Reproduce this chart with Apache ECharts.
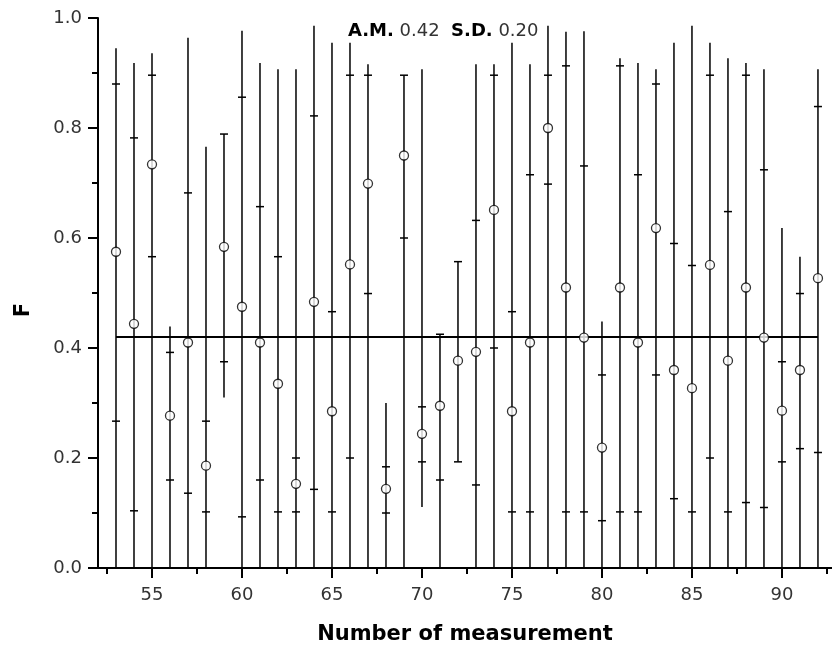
<!DOCTYPE html>
<html>
<head>
<meta charset="utf-8">
<title>F per measurement</title>
<script src="https://cdn.jsdelivr.net/npm/echarts@6/dist/echarts.min.js"></script>
<style>
  html, body { margin: 0; padding: 0; background: #fff; }
  #chart { width: 832px; height: 647px; }
</style>
</head>
<body>
<div id="chart"></div>
<script>
// values
const measurement = [53, 54, 55, 56, 57, 58, 59, 60, 61, 62, 63, 64, 65, 66, 67, 68, 69, 70, 71, 72,
  73, 74, 75, 76, 77, 78, 79, 80, 81, 82, 83, 84, 85, 86, 87, 88, 89, 90, 91, 92]
const meanF = [0.575, 0.444, 0.734, 0.277, 0.41, 0.186, 0.584, 0.475, 0.41, 0.335,
  0.153, 0.484, 0.285, 0.552, 0.699, 0.144, 0.75, 0.244, 0.295, 0.377,
  0.393, 0.651, 0.285, 0.41, 0.8, 0.51, 0.419, 0.219, 0.51, 0.41,
  0.618, 0.36, 0.327, 0.551, 0.377, 0.51, 0.419, 0.286, 0.36, 0.527]
const minF = [0, 0, 0, 0, 0, 0, 0.31, 0, 0, 0,
  0, 0, 0, 0, 0, 0, 0, 0.111, 0, 0.193,
  0, 0, 0, 0, 0, 0, 0, 0, 0, 0,
  0, 0, 0, 0, 0, 0, 0, 0, 0, 0]
const maxF = [0.945, 0.918, 0.936, 0.439, 0.964, 0.766, 0.789, 0.977, 0.918, 0.907,
  0.907, 0.986, 0.955, 0.955, 0.916, 0.30, 0.896, 0.907, 0.425, 0.557,
  0.916, 0.916, 0.955, 0.916, 0.986, 0.975, 0.976, 0.448, 0.927, 0.918,
  0.907, 0.955, 0.986, 0.955, 0.927, 0.918, 0.907, 0.618, 0.566, 0.907]
const sdUpper = [0.88, 0.782, 0.896, 0.392, 0.682, 0.267, 0.789, 0.856, 0.657, 0.566,
  0.2, 0.822, 0.466, 0.896, 0.896, 0.184, 0.896, 0.293, 0.425, 0.557,
  0.632, 0.896, 0.466, 0.715, 0.896, 0.913, 0.731, 0.351, 0.913, 0.715,
  0.88, 0.59, 0.55, 0.896, 0.648, 0.896, 0.724, 0.375, 0.499, 0.839]
const sdLower = [0.267, 0.104, 0.566, 0.16, 0.136, 0.102, 0.375, 0.093, 0.16, 0.102,
  0.102, 0.143, 0.102, 0.2, 0.499, 0.10, 0.6, 0.193, 0.16, 0.193,
  0.151, 0.4, 0.102, 0.102, 0.698, 0.102, 0.102, 0.086, 0.102, 0.102,
  0.351, 0.126, 0.102, 0.2, 0.102, 0.119, 0.11, 0.193, 0.217, 0.21]
const meanValue = 0.42
const sdValue = 0.20
const xLabels = [55, 60, 65, 70, 75, 80, 85, 90]
const xMinorTicks = [52.5, 57.5, 62.5, 67.5, 72.5, 77.5, 82.5, 87.5, 92.5]

const barData = measurement.map((n, i) => [n, minF[i], maxF[i], sdUpper[i], sdLower[i]])
const pointData = measurement.map((n, i) => [n, meanF[i]])
const meanLine = [[measurement[0], meanValue], [measurement[measurement.length - 1], meanValue]]

const chart = echarts.init(document.getElementById('chart'))

const labelFont = { fontFamily: 'DejaVu Sans', fontSize: 18, color: '#333' }
const nameFont = { fontFamily: 'DejaVu Sans', fontSize: 21, fontWeight: 'bold', color: '#000' }

function renderBar(params, api) {
  const x = api.value(0)
  const lo = api.coord([x, api.value(1)])
  const hi = api.coord([x, api.value(2)])
  const t1 = api.coord([x, api.value(3)])
  const t2 = api.coord([x, api.value(4)])
  const style = { stroke: '#000', lineWidth: 1.5 }
  const half = 4
  return {
    type: 'group',
    children: [
      { type: 'line', shape: { x1: lo[0], y1: lo[1], x2: hi[0], y2: hi[1] }, style },
      { type: 'line', shape: { x1: t1[0] - half, y1: t1[1], x2: t1[0] + half, y2: t1[1] }, style },
      { type: 'line', shape: { x1: t2[0] - half, y1: t2[1], x2: t2[0] + half, y2: t2[1] }, style }
    ]
  }
}

const option = {
  animation: false,
  backgroundColor: '#fff',
  title: {
    text: '{b|A.M.} ' + meanValue.toFixed(2) + '  {b|S.D.} ' + sdValue.toFixed(2),
    left: 343,
    top: 17,
    textStyle: {
      fontFamily: 'DejaVu Sans',
      fontSize: 18,
      fontWeight: 'normal',
      color: '#333',
      rich: {
        b: { fontFamily: 'DejaVu Sans', fontSize: 18, fontWeight: 'bold', color: '#000' }
      }
    }
  },
  grid: {
    left: 98,
    right: 0,
    top: 18,
    bottom: 79,
    containLabel: false,
    outerBoundsMode: 'none'
  },
  xAxis: [
    {
      type: 'value',
      min: 52,
      max: 92.78,
      name: 'Number of measurement',
      nameLocation: 'middle',
      nameGap: 56,
      nameTextStyle: nameFont,
      axisLine: { show: true, lineStyle: { color: '#000', width: 2 } },
      axisTick: { show: true, inside: false, length: 10, customValues: xLabels, lineStyle: { color: '#000', width: 2 } },
      axisLabel: { show: true, margin: 18, customValues: xLabels, ...labelFont },
      splitLine: { show: false }
    },
    {
      type: 'value',
      min: 52,
      max: 92.78,
      position: 'bottom',
      axisLine: { show: false },
      axisTick: { show: true, length: 6, customValues: xMinorTicks, lineStyle: { color: '#000', width: 2 } },
      axisLabel: { show: false },
      splitLine: { show: false }
    }
  ],
  yAxis: {
    type: 'value',
    min: 0,
    max: 1,
    interval: 0.2,
    name: 'F',
    nameLocation: 'middle',
    nameGap: 64,
    nameTextStyle: { ...nameFont, padding: [0, 34, 0, 0] },
    axisLine: { show: true, lineStyle: { color: '#000', width: 2 } },
    axisTick: { show: true, length: 10, lineStyle: { color: '#000', width: 2 } },
    minorTick: { show: true, splitNumber: 2, length: 6, lineStyle: { color: '#000', width: 2 } },
    axisLabel: { margin: 16, formatter: v => v.toFixed(1), ...labelFont },
    splitLine: { show: false },
    minorSplitLine: { show: false }
  },
  series: [
    {
      name: 'range',
      type: 'custom',
      xAxisIndex: 0,
      renderItem: renderBar,
      encode: { x: 0, y: [1, 2, 3, 4] },
      data: barData,
      z: 2
    },
    {
      name: 'A.M.',
      type: 'line',
      xAxisIndex: 0,
      data: meanLine,
      symbol: 'none',
      lineStyle: { color: '#000', width: 2 },
      z: 3
    },
    {
      name: 'F',
      type: 'scatter',
      xAxisIndex: 0,
      data: pointData,
      symbol: 'circle',
      symbolSize: 9,
      itemStyle: { color: '#fff', borderColor: '#000', borderWidth: 1.3 },
      z: 4
    }
  ]
}

chart.setOption(option)
window.addEventListener('resize', () => chart.resize())
</script>
</body>
</html>
